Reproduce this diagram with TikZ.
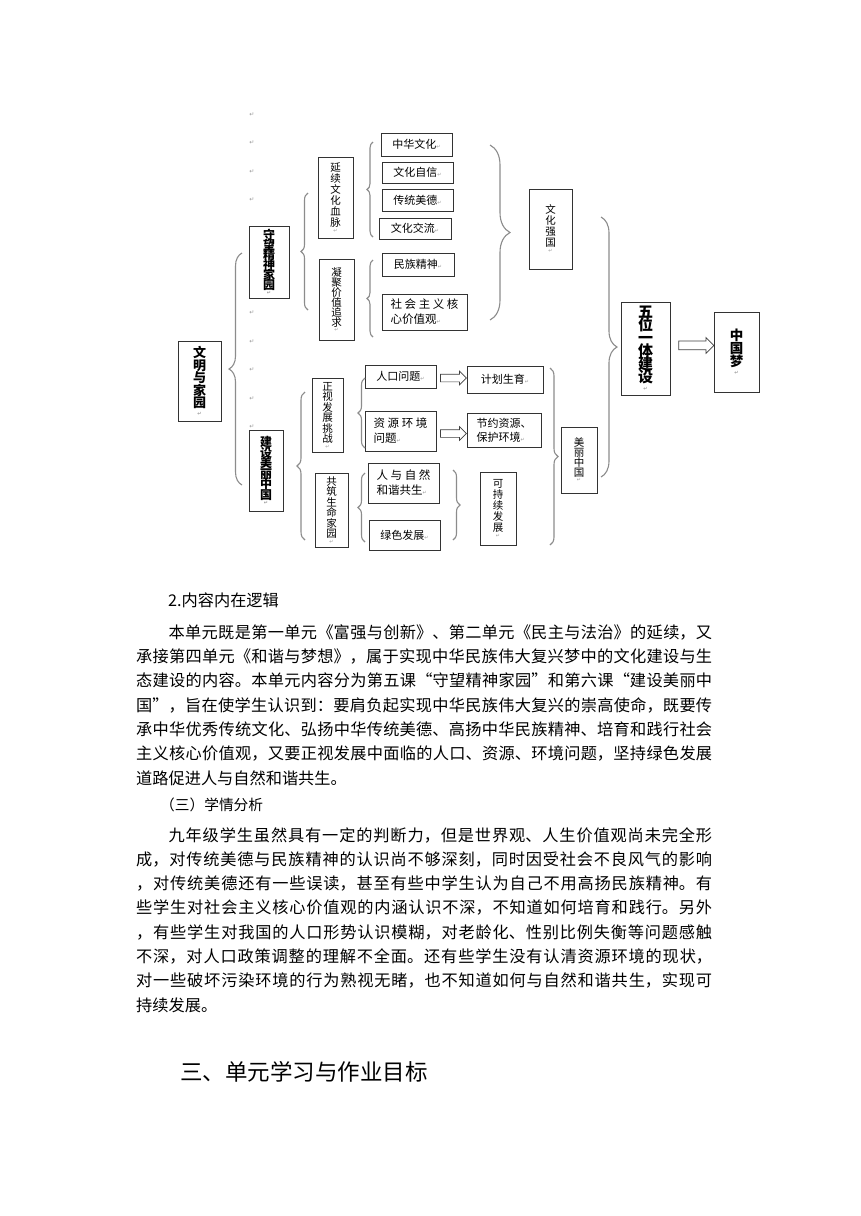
\documentclass[tikz,border=0pt]{standalone}
\usepackage{fontspec}
\setmainfont{Noto Sans CJK SC}
\newfontfamily\djv{DejaVu Sans}
\usetikzlibrary{decorations.pathreplacing,shapes.arrows,calc}
\XeTeXlinebreaklocale "zh"
\XeTeXlinebreakskip=0pt plus 4pt
\newcommand\rt{{\djv\fontsize{5}{5}\selectfont\color{black!40}↵}}
\newcommand\vf[2]{\fontsize{#1}{#2}\selectfont\lineskiplimit=-30pt\relax}
\newcommand\jl[1]{\noindent\parfillskip=0pt\relax#1\par}
\begin{document}
\begin{tikzpicture}[x=1pt,y=-1pt,
 bx/.style={draw=black!80,line width=0.8pt,inner sep=0pt,align=center},
 vb/.style={bx,font=\vf{10.5}{10.5}},
 vbb/.style={bx,font=\vf{12}{10.5}\bfseries},
 hb/.style={bx,font=\vf{11}{14}},
 brc/.style={draw=black!45,line width=1.1pt,decorate,decoration={brace,amplitude=#1}},
 brc/.default=7,
 ret/.style={font=\djv\fontsize{6}{6}\selectfont,text=black!40,inner sep=0pt},
 harrow/.style={single arrow,draw=black!75,line width=0.7pt,fill=white,inner xsep=0pt,single arrow head indent=0pt},
 body/.style={anchor=west,inner sep=0pt,text width=576pt,align=justify,font=\fontsize{16.2}{20}\selectfont},
 plain/.style={anchor=west,inner sep=0pt,font=\fontsize{16.2}{20}\selectfont},
]
\fill[white] (0,0) rectangle (860,1216);
\useasboundingbox (0,0) rectangle (860,1216);

% ---- return marks column
\foreach \yy [count=\i] in {115,143,172,200,313,342,370,399,427}
  \node[ret] (r\i) at (252,\yy) {↵};

% ---- vertical boxes
\node[vbb,font=\vf{13}{12.5}\bfseries,minimum width=43pt,minimum height=80pt] (wenming) at (199.5,381) {文\\明\\与\\家\\园\\[-5pt]\rt};
\node[vbb,font=\vf{12}{10}\bfseries,minimum width=40pt,minimum height=72pt] (shouwang) at (269,262) {守\\望\\精\\神\\家\\园\\[-5pt]\rt};
\node[vbb,font=\vf{12}{10.5}\bfseries,minimum width=34pt,minimum height=81pt] (jianshe) at (266,470.5) {建\\设\\美\\丽\\中\\国\\[-5pt]\rt};
\node[vb,font=\vf{10.5}{11},minimum width=35pt,minimum height=81pt] (yanxu) at (335.5,197.5) {延\\续\\文\\化\\血\\脉\\[-5pt]\rt};
\node[vb,font=\vf{10.5}{10},minimum width=35pt,minimum height=81pt] (ningju) at (336.5,299.5) {凝\\聚\\价\\值\\追\\求\\[-5pt]\rt};
\node[vb,minimum width=31pt,minimum height=74pt] (zhengshi) at (327.5,415) {正\\视\\发\\展\\挑\\战\\[-5pt]\rt};
\node[vb,minimum width=33pt,minimum height=74pt] (gongzhu) at (331.5,510) {共\\筑\\生\\命\\家\\园\\[-5pt]\rt};
\node[vb,font=\vf{10.5}{11},minimum width=36pt,minimum height=73pt] (kechixu) at (498,508.5) {可\\持\\续\\发\\展\\[-5pt]\rt};
\node[vb,font=\vf{10.5}{11},minimum width=43pt,minimum height=80pt] (wenhua) at (550.5,229) {文\\化\\强\\国\\[-5pt]\rt};
\node[vb,font=\vf{10.5}{10},minimum width=36pt,minimum height=66pt] (meili) at (579,460) {美\\丽\\中\\国\\[-5pt]\rt};
\node[vbb,font=\vf{15}{13}\bfseries,minimum width=49pt,minimum height=93pt] (wuwei) at (645.5,348.5) {五\\位\\一\\体\\建\\设\\[-5pt]\rt};
\node[vbb,font=\vf{13.5}{13}\bfseries,minimum width=45pt,minimum height=80pt] (zgm) at (736.5,352) {中\\国\\梦\\[-5pt]\rt};

% ---- horizontal boxes
\node[hb,minimum width=71pt,minimum height=23pt] (zhonghua) at (416.5,144.5) {中华文化\rt};
\node[hb,minimum width=71pt,minimum height=21pt] (zixin) at (417.5,172.5) {文化自信\rt};
\node[hb,minimum width=71pt,minimum height=22pt] (meide) at (417.5,200) {传统美德\rt};
\node[hb,minimum width=72pt,minimum height=21pt] (jiaoliu) at (415,228.5) {文化交流\rt};
\node[hb,minimum width=72pt,minimum height=23pt] (minzu) at (418,264.5) {民族精神\rt};
\node[hb,align=left,font=\vf{11.5}{15},minimum width=85pt,minimum height=36pt] (hexin) at (424.5,312) {社 会 主 义 核\\心价值观\rt};
\node[hb,minimum width=71pt,minimum height=23pt] (renkou) at (400.5,376.5) {人口问题\rt};
\node[hb,align=left,font=\vf{11.5}{15},minimum width=71pt,minimum height=40pt] (ziyuan) at (400.5,431) {资 源 环 境\\问题\rt};
\node[hb,minimum width=76pt,minimum height=27pt] (jihua) at (505,379.5) {计划生育\rt};
\node[hb,align=left,minimum width=74pt,minimum height=34pt] (jieyue) at (504,430) {节约资源、\\保护环境\rt};
\node[hb,align=left,font=\vf{11.5}{15},minimum width=71pt,minimum height=40pt] (renyu) at (403.5,483) {人 与 自 然\\和谐共生\rt};
\node[hb,minimum width=71pt,minimum height=30pt] (lvse) at (404.5,535) {绿色发展\rt};

% ---- hollow arrows
\node[harrow,inner ysep=3.5pt,single arrow head extend=3pt,minimum height=26pt] (a1) at ($(renkou.east)!0.5!(jihua.west)$) {};
\node[harrow,inner ysep=3.5pt,single arrow head extend=3pt,minimum height=26pt,yshift=-3pt] (a2) at ($(ziyuan.east)!0.5!(jieyue.west)$) {};
\node[harrow,inner ysep=4pt,single arrow head extend=3.5pt,minimum height=35pt,yshift=5pt] (a3) at ($(wuwei.east)!0.55!(zgm.west)$) {};

% ---- braces
\draw[brc=13] (242,485) -- (242,253);
\draw[brc=7] (308,310) -- (308,193);
\draw[brc=6] (373,237) -- (373,142);
\draw[brc=6] (373,337) -- (373,260);
\draw[brc=20] (490,145) -- (490,320);
\draw[brc=16] (601,217) -- (601,477);
\draw[brc=7] (365,448) -- (365,378);
\draw[brc=8] (305,540) -- (305,392);
\draw[brc=7] (365,542) -- (365,473);
\draw[brc=7] (453,470) -- (453,540);
\draw[brc=8] (550,368) -- (550,545);

% ---- text below
\node[plain] (h2) at (168,600) {2.内容内在逻辑};
\node[body] (p1a) at (136,632) {\jl{\hspace*{2em}本单元既是第一单元《富强与创新》、第二单元《民主与法治》的延续，又}};
\node[body] (p1b) at (136,656.3) {\jl{承接第四单元《和谐与梦想》，属于实现中华民族伟大复兴梦中的文化建设与生}};
\node[body] (p1c) at (136,680.7) {\jl{态建设的内容。本单元内容分为第五课“守望精神家园”和第六课“建设美丽中}};
\node[body] (p1d) at (136,705) {\jl{国”，旨在使学生认识到：要肩负起实现中华民族伟大复兴的崇高使命，既要传}};
\node[body] (p1e) at (136,729.3) {\jl{承中华优秀传统文化、弘扬中华传统美德、高扬中华民族精神、培育和践行社会}};
\node[body] (p1f) at (136,753.7) {\jl{主义核心价值观，又要正视发展中面临的人口、资源、环境问题，坚持绿色发展}};
\node[plain] (p1g) at (136,778) {道路促进人与自然和谐共生。};

\node[anchor=west,inner sep=0pt,font=\fontsize{14.7}{18}\selectfont] (h3) at (160,805) {（三）学情分析};

\node[body] (p2a) at (136,835) {\jl{\hspace*{2em}九年级学生虽然具有一定的判断力，但是世界观、人生价值观尚未完全形}};
\node[body] (p2b) at (136,859.3) {\jl{成，对传统美德与民族精神的认识尚不够深刻，同时因受社会不良风气的影响}};
\node[body] (p2c) at (136,883.6) {\jl{，对传统美德还有一些误读，甚至有些中学生认为自己不用高扬民族精神。有}};
\node[body] (p2d) at (136,907.9) {\jl{些学生对社会主义核心价值观的内涵认识不深，不知道如何培育和践行。另外}};
\node[body] (p2e) at (136,932.1) {\jl{，有些学生对我国的人口形势认识模糊，对老龄化、性别比例失衡等问题感触}};
\node[body] (p2f) at (136,956.4) {\jl{不深，对人口政策调整的理解不全面。还有些学生没有认清资源环境的现状，}};
\node[body] (p2g) at (136,980.7) {\jl{对一些破坏污染环境的行为熟视无睹，也不知道如何与自然和谐共生，实现可}};
\node[plain] (p2h) at (136,1005) {持续发展。};

\node[anchor=west,inner sep=0pt,font=\fontsize{22.5}{26}\selectfont] (h4) at (180,1072) {三、单元学习与作业目标};
\end{tikzpicture}
\end{document}
